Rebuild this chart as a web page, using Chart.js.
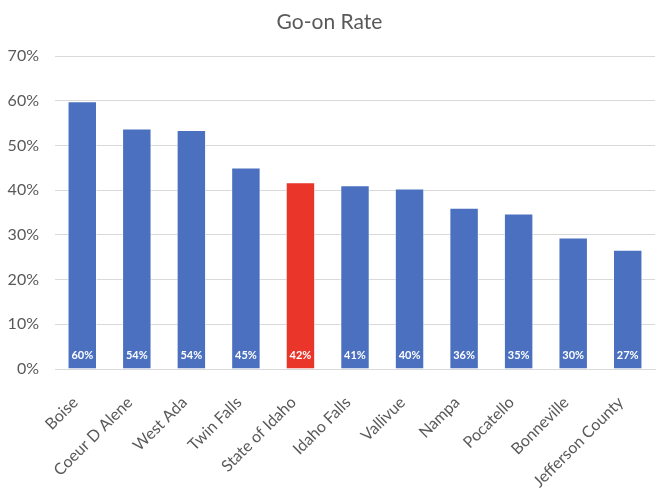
<!DOCTYPE html>
<html>
<head>
<meta charset="utf-8">
<script src="https://cdn.jsdelivr.net/npm/chart.js@4"></script>
<style>
  body { margin: 0; background: #fff; }
  #wrap { width: 669px; height: 500px; }
</style>
</head>
<body>
<div id="wrap"><canvas id="goOnChart" width="669" height="500"></canvas></div>
<script>
// data
const districts = ['Boise', 'Coeur D Alene', 'West Ada', 'Twin Falls', 'State of Idaho',
  'Idaho Falls', 'Vallivue', 'Nampa', 'Pocatello', 'Bonneville', 'Jefferson County'];
const goOnRate = [59.9, 53.8, 53.5, 45.1, 41.8, 41.1, 40.4, 36.1, 34.8, 29.4, 26.7];
const rateLabels = ['60%', '54%', '54%', '45%', '42%', '41%', '40%', '36%', '35%', '30%', '27%'];
const yTicks = [0, 10, 20, 30, 40, 50, 60, 70];

const blue = '#4A70BF';
const red = '#E9352A';
const fontFamily = 'Lato, "Open Sans", sans-serif';

let barColors = districts.map(function (name) {
  return name == 'State of Idaho' ? red : blue;
});

// writes the value at the foot of every bar
const barFootLabels = {
  id: 'barFootLabels',
  afterDatasetsDraw: function (chart) {
    let ctx = chart.ctx;
    let meta = chart.getDatasetMeta(0);
    let zeroY = chart.scales.y.getPixelForValue(0);
    ctx.save();
    ctx.fillStyle = '#ffffff';
    ctx.font = 'bold 11px ' + fontFamily;
    ctx.textAlign = 'center';
    ctx.textBaseline = 'middle';
    meta.data.forEach(function (bar, i) {
      ctx.fillText(rateLabels[i], bar.x, zeroY - 14);
    });
    ctx.restore();
  }
};

new Chart(document.getElementById('goOnChart'), {
  type: 'bar',
  data: {
    labels: districts,
    datasets: [{
      data: goOnRate,
      backgroundColor: barColors,
      borderColor: 'rgba(255,255,255,0.6)',
      borderWidth: 1,
      categoryPercentage: 1,
      barPercentage: 0.54
    }]
  },
  options: {
    responsive: false,
    animation: false,
    layout: {
      padding: { top: 8, right: 14, left: 4, bottom: 0 }
    },
    plugins: {
      legend: { display: false },
      tooltip: { enabled: false },
      title: {
        display: true,
        text: 'Go-on Rate',
        color: '#595959',
        font: { family: fontFamily, size: 21, weight: 'normal' },
        padding: { top: 2, bottom: 21 }
      }
    },
    scales: {
      y: {
        min: 0,
        max: 70,
        afterBuildTicks: function (scale) {
          scale.ticks = yTicks.map(function (v) { return { value: v }; });
        },
        afterFit: function (scale) {
          scale.width = 51;
        },
        border: { display: false },
        grid: { color: '#D9D9D9', lineWidth: 1, drawTicks: false },
        ticks: {
          color: '#595959',
          font: { family: fontFamily, size: 16 },
          padding: 16,
          callback: function (value) { return value + '%'; }
        }
      },
      x: {
        afterFit: function (scale) {
          scale.height = 131;
        },
        border: { display: true, color: '#D9D9D9' },
        grid: { display: false },
        ticks: {
          color: '#595959',
          font: { family: fontFamily, size: 16 },
          minRotation: 45,
          maxRotation: 45,
          padding: 16,
          labelOffset: -7
        }
      }
    }
  },
  plugins: [barFootLabels]
});
</script>
</body>
</html>
